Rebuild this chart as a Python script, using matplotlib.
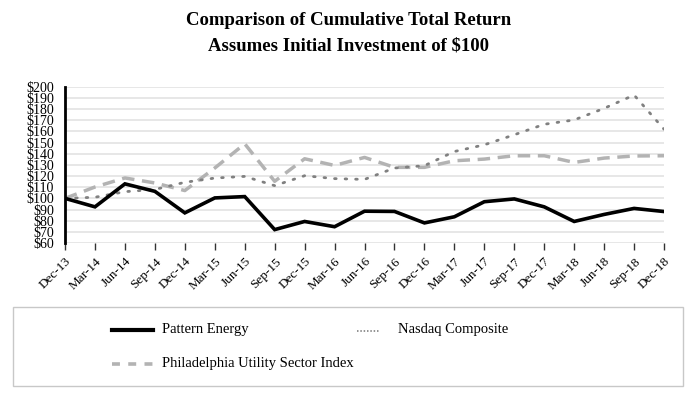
import matplotlib
matplotlib.use("Agg")
import matplotlib.pyplot as plt
from matplotlib.patches import Rectangle
from matplotlib.lines import Line2D

plt.rcParams['font.family'] = ['Liberation Serif', 'DejaVu Serif']

# quarters
dates = ['Dec-13', 'Mar-14', 'Jun-14', 'Sep-14', 'Dec-14', 'Mar-15', 'Jun-15',
         'Sep-15', 'Dec-15', 'Mar-16', 'Jun-16', 'Sep-16', 'Dec-16', 'Mar-17',
         'Jun-17', 'Sep-17', 'Dec-17', 'Mar-18', 'Jun-18', 'Sep-18', 'Dec-18']

pattern = [100, 92.4, 113, 106.3, 87, 100.4, 101.6, 72, 79.3, 74.6, 88.5,
           88.3, 78, 83.5, 97, 99.5, 92.4, 79.3, 85.6, 91, 88.2]
nasdaq = [100, 101, 106, 108, 114.4, 118.2, 119.7, 111.4, 120.3, 117.7, 117,
          127.2, 129.3, 142, 148, 157, 166.4, 170.3, 180.7, 192.6, 162]
phil_util = [100, 110.2, 118.3, 113.8, 107, 127.2, 148.9, 115.3, 135.5, 129.5,
             136.7, 127.8, 127.8, 133.7, 135.2, 138.2, 138.2, 132.2, 136.1,
             138, 138.2]

yticks = list(range(60, 201, 10))

W, H = 697.0, 400.0
fig = plt.figure(figsize=(6.97, 4.0), dpi=100)
ax = fig.add_axes([0.0933, 0.3925, 0.8594, 0.3905])

x = list(range(len(dates)))
ax.plot(x, pattern, color='black', lw=2.6, solid_joinstyle='miter', zorder=4)
ax.plot(x, nasdaq, color='#808080', lw=2.0, linestyle=(0, (0.6, 3.2)),
        dash_capstyle='round', zorder=3)
ax.plot(x, phil_util, color='#b3b3b3', lw=2.5, linestyle=(0, (3.6, 2.2)),
        zorder=2)

ax.set_xlim(0, len(dates) - 1)
ax.set_ylim(60, 200)
ax.set_yticks(yticks)
ax.set_yticklabels(['$%d' % v for v in yticks], fontsize=10)
ax.yaxis.grid(True, color='#e3e3e3', lw=1.2)
ax.set_axisbelow(True)
ax.tick_params(axis='y', length=0, pad=8)
ax.set_xticks(x)
ax.set_xticklabels(dates, rotation=45, ha='right', rotation_mode='anchor',
                   fontsize=9.5)
ax.tick_params(axis='x', length=5, width=1, color='#333333', pad=4)
for s in ['top', 'right', 'bottom']:
    ax.spines[s].set_visible(False)
ax.spines['left'].set_linewidth(2)

fig.text(0.5, 0.948, 'Comparison of Cumulative Total Return', ha='center',
         va='center', fontsize=13.5, fontweight='bold')
fig.text(0.5, 0.886, 'Assumes Initial Investment of $100', ha='center',
         va='center', fontsize=13.5, fontweight='bold')

# legend box, drawn by hand
fig.patches.append(Rectangle((13 / W, 1 - 386 / H), 670 / W, 79 / H,
                             transform=fig.transFigure, fill=False,
                             edgecolor='#c8c8c8', lw=1))
fig.add_artist(Line2D([112 / W, 153 / W], [1 - 330 / H] * 2,
                      transform=fig.transFigure, color='black', lw=3))
fig.text(162 / W, 1 - 330 / H, 'Pattern Energy', ha='left', va='center',
         fontsize=10.5)
fig.add_artist(Line2D([357 / W, 380 / W], [1 - 331 / H] * 2,
                      transform=fig.transFigure, color='#808080', lw=1.2,
                      linestyle=(0, (0.9, 1.1))))
fig.text(398 / W, 1 - 330 / H, 'Nasdaq Composite', ha='left', va='center',
         fontsize=10.5)
fig.add_artist(Line2D([112 / W, 153 / W], [1 - 364 / H] * 2,
                      transform=fig.transFigure, color='#b3b3b3', lw=2.6,
                      linestyle=(0, (2.2, 2.3))))
fig.text(162 / W, 1 - 364 / H, 'Philadelphia Utility Sector Index', ha='left',
         va='center', fontsize=10.5)

plt.savefig('out.png', dpi=100)
